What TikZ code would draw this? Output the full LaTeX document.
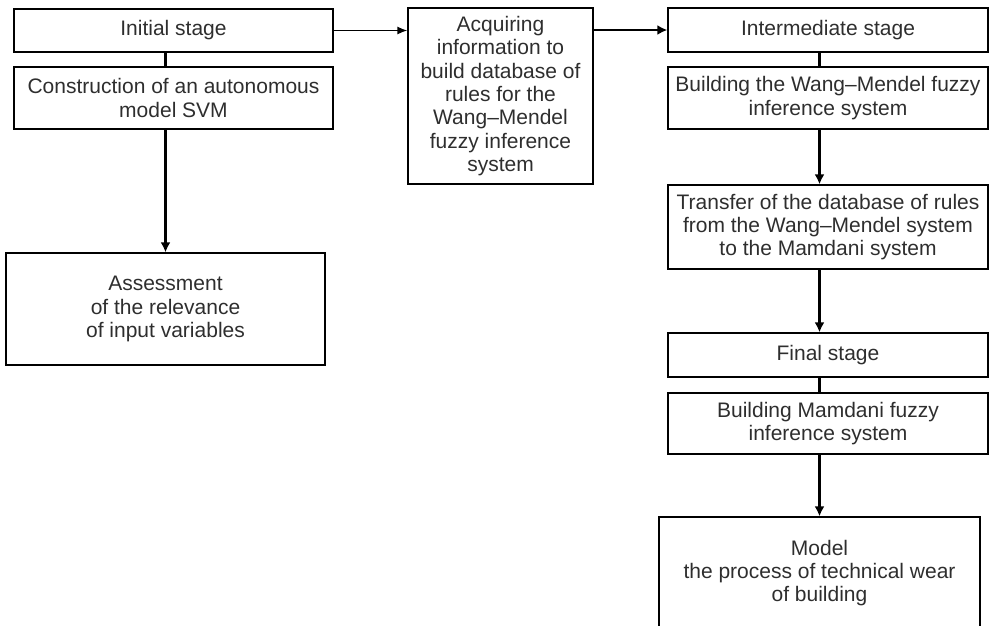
\documentclass[tikz,border=0pt]{standalone}
\usepackage{fontspec}
\setmainfont{Liberation Sans}
\usetikzlibrary{arrows.meta}
\begin{document}
\begin{tikzpicture}[x=1pt,y=-1pt]
        \tikzstyle{stage}=[rectangle,draw=black,line width=1.3pt,text=black!82,align=center,inner sep=0pt,font=\fontsize{21}{23.4}\selectfont]
        \tikzstyle{edge}=[draw,line width=2.4pt,-{Latex[length=10pt,width=10pt]}]
        \tikzstyle{link}=[draw,line width=2.4pt]
        \tikzstyle{thin}=[draw,line width=1.3pt,-{Latex[length=10pt,width=8pt]}]
        \useasboundingbox (0,0) rectangle (990,625);
        \clip (0,0) rectangle (990,625);
       \begin{scope}
         % left column
         \node [stage,minimum width=319pt,minimum height=43pt] (init) at (173.5,30.5) {Initial stage};
         \node [stage,minimum width=319pt,minimum height=62pt] (svm) at (173.5,98) {Construction of an autonomous\\model SVM};
         \node [stage,minimum width=319pt,minimum height=112pt] (assess) at (165.5,309) {Assessment\\of the relevance\\of input variables};
         % middle
         \node [stage,minimum width=185pt,minimum height=176pt] (acq) at (500.5,96) {Acquiring\\information to\\build database of\\rules for the\\Wang--Mendel\\fuzzy inference\\system};
         % right column
         \node [stage,minimum width=320pt,minimum height=44pt] (inter) at (828,30) {Intermediate stage};
         \node [stage,minimum width=320pt,minimum height=62pt] (wm) at (828,98) {Building the Wang--Mendel fuzzy\\inference system};
         \node [stage,minimum width=320pt,minimum height=84pt] (transfer) at (828,227) {Transfer of the database of rules\\from the Wang--Mendel system\\to the Mamdani system};
         \node [stage,minimum width=320pt,minimum height=44pt] (final) at (828,355) {Final stage};
         \node [stage,minimum width=320pt,minimum height=61pt] (mamdani) at (828,423.5) {Building Mamdani fuzzy\\inference system};
         \node [stage,minimum width=321pt,minimum height=112pt] (model) at (819.5,573) {Model\\the process of technical wear\\of building};
         % connectors
         \path[link] (init.south -| assess.north) -- (svm.north -| assess.north);
         \path[edge] (svm.south -| assess.north) -- (assess.north);
         \path[thin] (init.east) -- (init.east -| acq.west);
         \path[edge] (acq.east |- inter.west) -- (inter.west);
         \path[link] (inter.south -| model.north) -- (wm.north -| model.north);
         \path[edge] (wm.south -| model.north) -- (transfer.north -| model.north);
         \path[edge] (transfer.south -| model.north) -- (final.north -| model.north);
         \path[link] (final.south -| model.north) -- (mamdani.north -| model.north);
         \path[edge] (mamdani.south -| model.north) -- (model.north);
        \end{scope}
      \end{tikzpicture}
\end{document}
